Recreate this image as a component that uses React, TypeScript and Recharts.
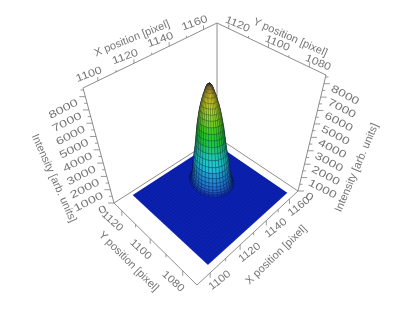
import React from 'react';
import { ComposedChart, Line, Scatter, XAxis, YAxis } from 'recharts';

// axis values
const xMajor = [1100, 1120, 1140, 1160];
const xMinor = [1110, 1130, 1150];
const yMajor = [1080, 1100, 1120];
const yMinor = [1090, 1110];
const zMajor = [0, 1000, 2000, 3000, 4000, 5000, 6000, 7000, 8000];
const zMinor = [500, 1500, 2500, 3500, 4500, 5500, 6500, 7500, 8500];

const xRange = [1092, 1168];
const yRange = [1072, 1126];
const zTop = 8650;

// extent of the blue surface
const surfaceX = [1102, 1162.7];
const surfaceY = [1075, 1124];
const peakCenter = [1139.5, 1105.5];

// peak: height, radius in pixels of the detector, colour
const peakZ = [0, 40, 100, 200, 350, 550, 800, 1100, 1450, 1850, 2300, 2750, 3200, 3650, 4100, 4550, 5000, 5400, 5800, 6150, 6500, 6800, 7050, 7250, 7400];
const peakR = [11.5, 11, 10.6, 10.3, 10, 9.6, 9.3, 9, 8.6, 8.2, 7.6, 7.1, 6.7, 6.3, 5.9, 5.4, 4.9, 4.4, 3.8, 3.2, 2.6, 2, 1.5, 1, 0];
const peakColors = ['#1230b8', '#1a44c0', '#1c50c4', '#2060c8', '#2070cc', '#2080d0', '#2090d0', '#20a0d0', '#20c0d4', '#20ccc8', '#20ccb0', '#20cc70', '#20cc40', '#28d028', '#48d420', '#78d820', '#98dc20', '#b8dc20', '#d4dc20', '#e8dc20', '#f0d820', '#f0c820', '#f0b820', '#eca420'];
const sectors = 32;

// projection: corners of the box on the page
const floorCorners = [[197, 285], [298, 191], [217, 137], [114, 203]];
const topCorners = [[193, 145], [326, 75], [217, 23], [83, 88]];

function homography(p: number[][]) {
  const [[x0, y0], [x1, y1], [x2, y2], [x3, y3]] = p;
  const dx1 = x1 - x2, dx2 = x3 - x2, sx = x0 - x1 + x2 - x3;
  const dy1 = y1 - y2, dy2 = y3 - y2, sy = y0 - y1 + y2 - y3;
  const den = dx1 * dy2 - dx2 * dy1;
  const g = (sx * dy2 - dx2 * sy) / den;
  const h = (dx1 * sy - sx * dy1) / den;
  const a = x1 - x0 + g * x1, b = x3 - x0 + h * x3;
  const d = y1 - y0 + g * y1, e = y3 - y0 + h * y3;
  return (s: number, t: number) => {
    const w = g * s + h * t + 1;
    return [(a * s + b * t + x0) / w, (d * s + e * t + y0) / w];
  };
}
const floorMap = homography(floorCorners);
const topMap = homography(topCorners);

function project(x: number, y: number, z: number) {
  const s = (x - xRange[0]) / (xRange[1] - xRange[0]);
  const t = (y - yRange[0]) / (yRange[1] - yRange[0]);
  const f = floorMap(s, t);
  const c = topMap(s, t);
  const k = z / zTop;
  return { u: f[0] + (c[0] - f[0]) * k, v: f[1] + (c[1] - f[1]) * k };
}

const [xLo, xHi] = xRange;
const [yLo, yHi] = yRange;

// frame edges
const frameEdges = [
  [[xLo, yHi, 0], [xLo, yLo, 0], [xHi, yLo, 0]],
  [[xLo, yHi, 0], [xHi, yHi, 0], [xHi, yLo, 0]],
  [[xLo, yHi, 0], [xLo, yHi, zTop], [xHi, yHi, zTop], [xHi, yLo, zTop], [xHi, yLo, 0]],
  [[xHi, yHi, 0], [xHi, yHi, zTop]],
].map((edge) => edge.map(([x, y, z]) => project(x, y, z)));

// ticks as pairs of points, length given in page pixels
function tick(x: number, y: number, z: number, du: number, dv: number) {
  const p = project(x, y, z);
  return [p, { u: p.u + du, v: p.v + dv }];
}
const tickPairs = [
  ...xMajor.flatMap((x) => [...tick(x, yLo, 0, 0, 5), ...tick(x, yHi, zTop, 0, -4)]),
  ...xMinor.flatMap((x) => [...tick(x, yLo, 0, 0, 3), ...tick(x, yHi, zTop, 0, -2)]),
  ...yMajor.flatMap((y) => [...tick(xLo, y, 0, 0, 5), ...tick(xHi, y, zTop, 0, -4)]),
  ...yMinor.flatMap((y) => [...tick(xLo, y, 0, 0, 3), ...tick(xHi, y, zTop, 0, -2)]),
  ...zMajor.flatMap((z) => [...tick(xLo, yHi, z, -6, 0), ...tick(xHi, yLo, z, 6, 0)]),
  ...zMinor.flatMap((z) => [...tick(xLo, yHi, z, -3, 0), ...tick(xHi, yLo, z, 3, 0)]),
];

// text marks
type Mark = { u: number; v: number; text: string; angle: number; stretch: number; squash: number; anchor: string; size: number };
function marks(values: number[], at: (n: number) => { u: number; v: number }, du: number, dv: number, angle: number, stretch: number, anchor = 'middle'): Mark[] {
  return values.map((n) => {
    const p = at(n);
    return { u: p.u + du, v: p.v + dv, text: String(n), angle, stretch, squash: 1, anchor, size: 10.5 };
  });
}
const tickLabels: Mark[] = [
  ...marks(xMajor, (x) => project(x, yHi, zTop), -9, -7, -20, 1.2),
  ...marks(yMajor, (y) => project(xHi, y, zTop), 9, -5, 23, 1.15),
  ...marks(xMajor, (x) => project(x, yLo, 0), 9, 7, -38, 1.1),
  ...marks(yMajor, (y) => project(xLo, y, 0), -9, 10, 42, 1.1),
  ...marks(zMajor, (z) => project(xLo, yHi, z), -8, 5, -27, 1.35, 'end'),
  ...marks(zMajor, (z) => project(xHi, yLo, z), 8, 4, 28, 1.3, 'start'),
];
const xTitle = 'X position [pixel]';
const yTitle = 'Y position [pixel]';
const zTitle = 'Intensity [arb. units]';
function title(text: string, p: { u: number; v: number }, du: number, dv: number, angle: number): Mark {
  return { u: p.u + du, v: p.v + dv, text, angle, stretch: 1, squash: 1, anchor: 'middle', size: 11 };
}
const axisTitles: Mark[] = [
  title(xTitle, project(1130, yHi, zTop), -20, -17, -22),
  title(yTitle, project(xHi, 1100, zTop), 22, -11, 24),
  title(xTitle, project(1130, yLo, 0), 22, 22, -44),
  title(yTitle, project(xLo, 1100, 0), -21, 22, 45),
  title(zTitle, project(xLo, yHi, 4000), -45, 28, 66),
  title(zTitle, project(xHi, yLo, 4000), 45, 30, -67),
];

// blue surface and its mesh
const surfaceQuad = [
  project(surfaceX[0], surfaceY[0], 0),
  project(surfaceX[1], surfaceY[0], 0),
  project(surfaceX[1], surfaceY[1], 0),
  project(surfaceX[0], surfaceY[1], 0),
];
const meshStep = 1.5;
const meshPairs: { u: number; v: number }[] = [];
for (let x = surfaceX[0]; x <= surfaceX[1]; x += meshStep) {
  meshPairs.push(project(x, surfaceY[0], 0), project(x, surfaceY[1], 0));
}
for (let y = surfaceY[0]; y <= surfaceY[1]; y += meshStep) {
  meshPairs.push(project(surfaceX[0], y, 0), project(surfaceX[1], y, 0));
}

function shadeColor(hex: string, k: number) {
  const n = parseInt(hex.slice(1), 16);
  const c = [(n >> 16) & 255, (n >> 8) & 255, n & 255].map((v) => Math.round(v * k));
  return `rgb(${c[0]},${c[1]},${c[2]})`;
}

// peak cells, farthest first
const peakQuads: { u: number; v: number }[] = [];
const peakFills: string[] = [];
const [cx, cy] = peakCenter;
const ringAt = (i: number, a: number) =>
  project(cx + peakR[i] * Math.cos(a), cy + peakR[i] * Math.sin(a), peakZ[i]);
const sectorOrder = Array.from({ length: sectors }, (_, j) => j).sort(
  (p, q) => ringAt(0, ((p + 0.5) * 2 * Math.PI) / sectors).v - ringAt(0, ((q + 0.5) * 2 * Math.PI) / sectors).v,
);
for (const j of sectorOrder) {
  const a0 = (j * 2 * Math.PI) / sectors;
  const a1 = ((j + 1) * 2 * Math.PI) / sectors;
  const mid = (a0 + a1) / 2;
  const base = ringAt(0, mid);
  const axis = project(cx, cy, 0);
  const front = base.v > axis.v;
  const lateral = (base.u - axis.u) / 24;
  const rings = peakColors.map((_, i) => i);
  if (front) rings.reverse();
  for (const i of rings) {
    peakQuads.push(ringAt(i, a0), ringAt(i, a1), ringAt(i + 1, a1), ringAt(i + 1, a0));
    peakFills.push(shadeColor(peakColors[i], (1 - 0.28 * lateral * lateral) * (front ? 1 : 0.8)));
  }
}

const noDot = () => <g />;

const drawSurface = (props: any) => (
  <polygon points={props.points.map((p: any) => `${p.x},${p.y}`).join(' ')} fill="#0c22b4" stroke="none" />
);

const drawPairs = (stroke: string, width: number) => (props: any) => (
  <path
    d={props.points
      .map((p: any, i: number) => `${i % 2 === 0 ? 'M' : 'L'}${p.x} ${p.y}`)
      .join('')}
    fill="none"
    stroke={stroke}
    strokeWidth={width}
  />
);

const drawPeak = (props: any) => {
  const cells = [];
  for (let i = 0; i < peakFills.length; i++) {
    const pts = props.points.slice(i * 4, i * 4 + 4);
    cells.push(
      <polygon
        key={i}
        points={pts.map((p: any) => `${p.x},${p.y}`).join(' ')}
        fill={peakFills[i]}
        stroke="#04142c"
        strokeOpacity={0.42}
        strokeWidth={0.5}
      />,
    );
  }
  return <g>{cells}</g>;
};

const drawText = (props: any) => {
  const m: Mark = props.payload;
  return (
    <text
      transform={`translate(${props.cx} ${props.cy}) rotate(${m.angle}) scale(${m.stretch} ${m.squash})`}
      textAnchor={m.anchor as any}
      dominantBaseline="central"
      fontFamily="'Liberation Sans', Arial, sans-serif"
      fontSize={m.size}
      fill="#767676"
    >
      {m.text}
    </text>
  );
};

export default function App() {
  return (
    <div style={{ position: 'absolute', left: 0, top: 0, width: 415, height: 312, background: '#fff', filter: 'blur(0.45px)' }}>
      <ComposedChart width={415} height={312} margin={{ top: 0, right: 0, bottom: 0, left: 0 }}>
        <XAxis type="number" dataKey="u" domain={[0, 415]} allowDataOverflow hide />
        <YAxis type="number" dataKey="v" domain={[0, 312]} allowDataOverflow reversed hide />
        {frameEdges.map((edge, i) => (
          <Line key={i} data={edge} dataKey="v" stroke="#808080" strokeWidth={0.9} dot={false} isAnimationActive={false} />
        ))}
        <Scatter data={tickPairs} line={drawPairs('#808080', 0.8)} shape={noDot} isAnimationActive={false} />
        <Scatter data={surfaceQuad} line={drawSurface} shape={noDot} isAnimationActive={false} />
        <Scatter data={meshPairs} line={drawPairs('#061478', 0.25)} shape={noDot} isAnimationActive={false} />
        <Scatter data={peakQuads} line={drawPeak} shape={noDot} isAnimationActive={false} />
        <Scatter data={tickLabels} shape={drawText} isAnimationActive={false} />
        <Scatter data={axisTitles} shape={drawText} isAnimationActive={false} />
      </ComposedChart>
    </div>
  );
}
